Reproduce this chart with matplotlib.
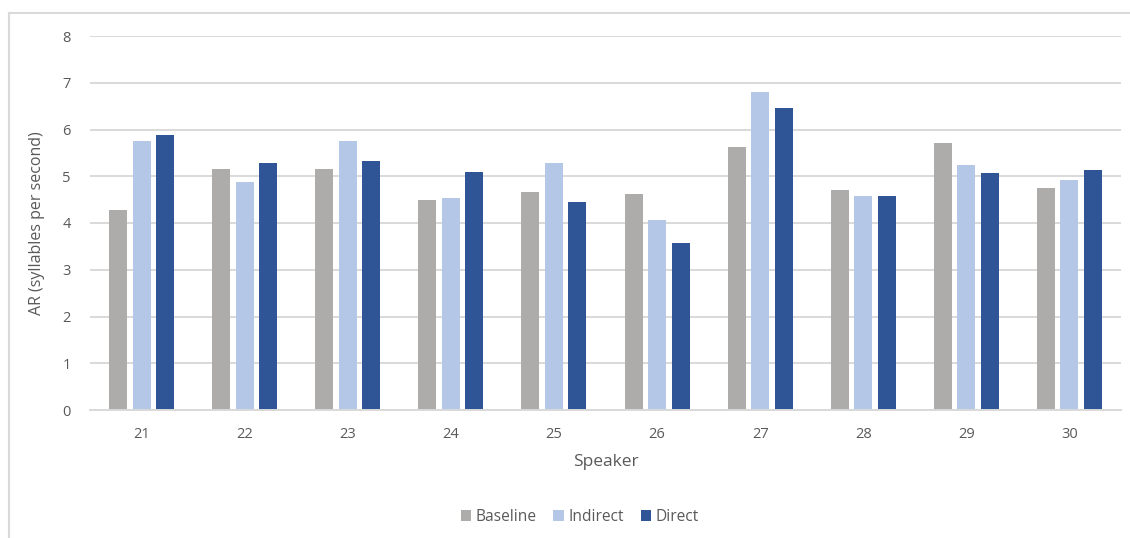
import matplotlib
matplotlib.use("Agg")
import matplotlib.pyplot as plt
import numpy as np
from matplotlib.lines import Line2D

speakers = ["21", "22", "23", "24", "25", "26", "27", "28", "29", "30"]
baseline = [4.28, 5.15, 5.15, 4.49, 4.66, 4.62, 5.63, 4.71, 5.71, 4.75]
indirect = [5.75, 4.88, 5.75, 4.53, 5.28, 4.06, 6.80, 4.58, 5.23, 4.93]
direct = [5.88, 5.28, 5.32, 5.10, 4.45, 3.58, 6.45, 4.58, 5.06, 5.14]
series_names = ["Baseline", "Indirect", "Direct"]
colors = ["#AEABAB", "#B4C7E7", "#2F5597"]
yticks = [0, 1, 2, 3, 4, 5, 6, 7, 8]

plt.rcParams['font.family'] = ['Open Sans', 'DejaVu Sans']
W, H = 1130, 538
fig = plt.figure(figsize=(W / 100, H / 100), dpi=100)
ax = fig.add_axes([90 / W, 1 - 410 / H, (1121 - 90) / W, (410 - 36) / H])

x = np.arange(len(speakers))
step = 0.228
width = 0.175
for i, (vals, c) in enumerate(zip([baseline, indirect, direct], colors)):
    ax.bar(x + (i - 1) * step, vals, width=width, color=c, zorder=3,
           label=series_names[i])

ax.set_xlim(-0.5, len(speakers) - 0.5)
ax.set_ylim(0, 8)
ax.set_yticks(yticks)
ax.set_xticks(x)
ax.set_xticklabels(speakers)
ax.grid(axis='y', color='#D9D9D9', linewidth=1.4, zorder=0)
for s in ['top', 'right', 'left']:
    ax.spines[s].set_visible(False)
ax.spines['bottom'].set_color('#D9D9D9')
ax.spines['bottom'].set_linewidth(1.4)
ax.spines['bottom'].set_zorder(4)
ax.tick_params(axis='both', length=0, colors='#595959', labelsize=10.5)
ax.tick_params(axis='y', pad=14)
ax.tick_params(axis='x', pad=12)
ax.set_xlabel("Speaker", color='#595959', fontsize=12.5, labelpad=9)
ax.set_ylabel("AR (syllables per second)", color='#595959', fontsize=11.5, labelpad=12)

leg = fig.legend(loc='center', bbox_to_anchor=(0.513, 1 - 517 / H), ncol=3,
                 frameon=False, fontsize=11.2, handlelength=0.65, handleheight=0.65,
                 handletextpad=0.3, columnspacing=1.1)
for t in leg.get_texts():
    t.set_color('#595959')

# chart frame (top and left edges visible in the reference)
fig.add_artist(Line2D([9 / W, 9 / W], [0, 1 - 13 / H], transform=fig.transFigure,
                      color='#D9D9D9', linewidth=1.5))
fig.add_artist(Line2D([9 / W, 1], [1 - 13 / H, 1 - 13 / H], transform=fig.transFigure,
                      color='#D9D9D9', linewidth=1.5))

fig.savefig("out.png", dpi=100)
